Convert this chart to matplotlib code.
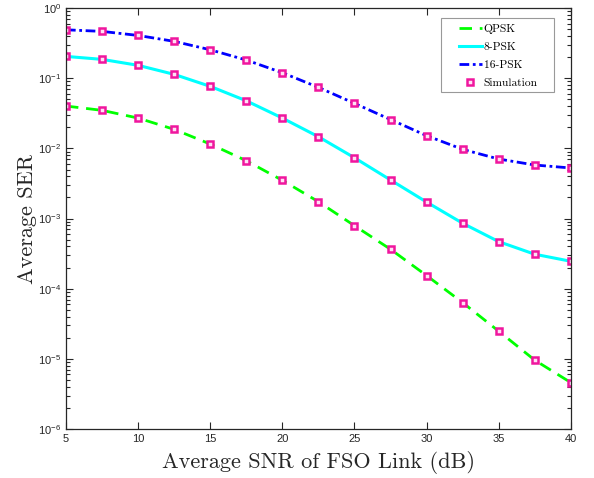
import matplotlib
matplotlib.use("Agg")
import matplotlib.pyplot as plt
from matplotlib.ticker import FixedLocator, FuncFormatter, LogLocator, NullFormatter
from matplotlib.patches import Rectangle
import numpy as np

snr_db = [5, 7.5, 10, 12.5, 15, 17.5, 20, 22.5, 25, 27.5, 30, 32.5, 35, 37.5, 40]
ser_qpsk = [0.0402, 0.0349, 0.0271, 0.0187, 0.01155, 0.00668, 0.00351, 0.00174,
            0.000792, 0.000365, 0.000154, 6.34e-5, 2.48e-5, 9.58e-6, 4.59e-6]
ser_8psk = [0.205, 0.186, 0.153, 0.1137, 0.0767, 0.0478, 0.0271, 0.01468,
            0.00736, 0.00355, 0.00172, 0.000857, 0.000469, 0.000310, 0.000246]
ser_16psk = [0.491, 0.466, 0.408, 0.336, 0.255, 0.182, 0.120, 0.0742,
             0.0439, 0.0258, 0.0152, 0.0097, 0.00706, 0.00580, 0.00526]
series_labels = ["QPSK", "8-PSK", "16-PSK", "Simulation"]
x_ticks = [5, 10, 15, 20, 25, 30, 35, 40]
y_exponents = [-6, -5, -4, -3, -2, -1, 0]

plt.rcParams['font.family'] = ['Liberation Sans', 'DejaVu Sans']
plt.rcParams['mathtext.fontset'] = 'custom'
plt.rcParams['mathtext.rm'] = 'Liberation Sans'
plt.rcParams['mathtext.it'] = 'Liberation Sans:italic'
plt.rcParams['mathtext.bf'] = 'Liberation Sans:bold'

fig = plt.figure(figsize=(5.94, 4.78), dpi=100)
ax = fig.add_axes([0.111, 0.1025, 0.85, 0.8805])

mk = '#F0169E'
l1, = ax.plot(snr_db, ser_qpsk, color='#00FF00', ls=(0, (4.5, 2.8)), lw=2.0)
l2, = ax.plot(snr_db, ser_8psk, color='#00FFFF', ls='-', lw=2.2)
l3, = ax.plot(snr_db, ser_16psk, color='#0000FF', ls=(0, (3.5, 1.3, 1.0, 1.3)), lw=2.0)
for s in (ser_qpsk, ser_8psk, ser_16psk):
    sm, = ax.plot(snr_db, s, ls='none', marker='s', ms=3.8, mfc='#FFE0F4', mec=mk, mew=1.8)

ax.set_yscale('log')
ax.set_xlim(5, 40)
ax.set_ylim(1e-6, 1)
ax.xaxis.set_major_locator(FixedLocator(x_ticks))
ax.yaxis.set_major_locator(FixedLocator([10.0 ** e for e in y_exponents]))
ax.yaxis.set_major_formatter(FuncFormatter(lambda v, p: r'$10^{%d}$' % int(round(np.log10(v)))))
ax.yaxis.set_minor_locator(LogLocator(base=10, subs=np.arange(2, 10), numticks=20))
ax.yaxis.set_minor_formatter(NullFormatter())
ax.tick_params(which='both', direction='in', top=True, right=True, colors='#262626',
               labelsize=8, width=0.8)
ax.tick_params(which='major', length=5)
ax.tick_params(which='minor', length=3)
for sp in ax.spines.values():
    sp.set_color('#262626')
    sp.set_linewidth(0.9)

ax.set_xlabel('Average SNR of FSO Link (dB)', fontsize=16, family='cmr10',
              color='#262626', labelpad=5)
ax.set_ylabel('Average SER', fontsize=16, family='cmr10',
              color='#262626', labelpad=0.5)

leg = ax.legend([l1, l2, l3, sm], series_labels,
                loc='upper left', bbox_to_anchor=(0.778, 0.962),
                prop={'family': 'cmr10', 'size': 8.3},
                frameon=False, borderpad=0, borderaxespad=0,
                handlelength=2.0, handletextpad=0.15, labelspacing=0.68)
ax.add_patch(Rectangle((0.7426, 0.8005), 0.9663 - 0.7426, 0.9762 - 0.8005,
                       transform=ax.transAxes, facecolor='white', edgecolor='#999999',
                       lw=0.8, zorder=4.5))

fig.savefig('out.png', dpi=100)
